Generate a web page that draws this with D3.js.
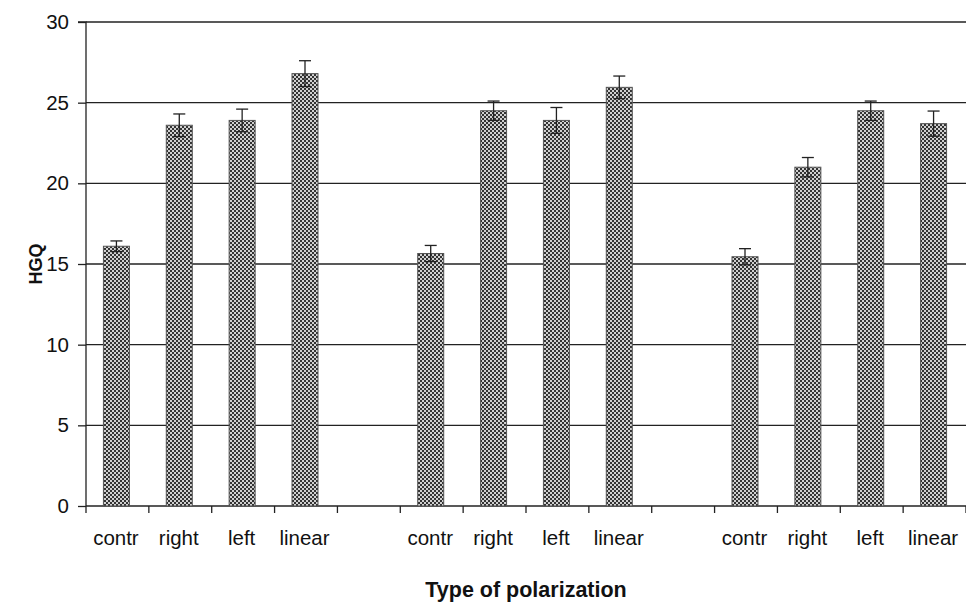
<!DOCTYPE html>
<html><head><meta charset="utf-8">
<script src="https://cdn.jsdelivr.net/npm/d3@7"></script>
<style>body{margin:0;background:#fff}svg{display:block}text{font-family:"Liberation Sans",Arial,sans-serif;fill:#111}</style>
</head><body><svg id="c" width="966" height="616"></svg>
<script>
const slots = ["contr","right","left","linear","gap1","contr","right","left","linear","gap2","contr","right","left","linear"];
const barSlots = [0,1,2,3,5,6,7,8,10,11,12,13];
const values = [16.1,23.6,23.9,26.8, 15.65,24.5,23.9,25.95, 15.45,21.0,24.5,23.7];
const errors = [0.33,0.7,0.7,0.8, 0.5,0.6,0.8,0.7, 0.5,0.6,0.6,0.78];
const yTicks = [0,5,10,15,20,25,30];

const svg = d3.select("#c");
const L=86, R=966, T=22, B=506;
const x = d3.scaleBand().domain(d3.range(slots.length)).range([L,R]).paddingInner(0).paddingOuter(0);
const y = d3.scaleLinear().domain([0,30]).range([B,T]);

const defs = svg.append("defs");
const pat = defs.append("pattern").attr("id","chk").attr("patternUnits","userSpaceOnUse").attr("width",4).attr("height",4);
pat.append("rect").attr("width",4).attr("height",4).attr("fill","#d0d0d0");
pat.append("rect").attr("width",2).attr("height",2).attr("fill","#333");
pat.append("rect").attr("x",2).attr("y",2).attr("width",2).attr("height",2).attr("fill","#333");

// gridlines
svg.append("g").selectAll("line").data(yTicks.filter(d=>d>0)).join("line")
  .attr("x1",L).attr("x2",R).attr("y1",d=>y(d)).attr("y2",d=>y(d))
  .attr("stroke","#222").attr("stroke-width",1.3);

// y axis
const ya = svg.append("g").attr("transform",`translate(${L},0)`)
  .call(d3.axisLeft(y).tickValues(yTicks).tickSize(8).tickPadding(9));
ya.selectAll("path,line").attr("stroke","#222").attr("stroke-width",1.3);
ya.selectAll("text").style("font-size","20.5px").attr("fill","#111");
ya.select(".domain").attr("d",`M-8,${T}H0V${B}`);

// x axis boundaries ticks
const xa = svg.append("g");
xa.append("line").attr("x1",L).attr("x2",R).attr("y1",B).attr("y2",B).attr("stroke","#222").attr("stroke-width",1.3);
xa.selectAll("line.t").data(d3.range(slots.length+1)).join("line").attr("class","t")
  .attr("x1",i=>i<slots.length?x(i):R).attr("x2",i=>i<slots.length?x(i):R)
  .attr("y1",B).attr("y2",B+7).attr("stroke","#222").attr("stroke-width",1.3);
xa.selectAll("text").data(d3.range(slots.length).filter(i=>!slots[i].startsWith("gap"))).join("text")
  .attr("x",i=>x(i)+x.bandwidth()/2-1.5).attr("y",545).attr("text-anchor","middle")
  .style("font-size","20.5px").text(i=>slots[i]);

// bars
const bw = 26;
const g = svg.append("g");
g.selectAll("rect").data(values).join("rect")
  .attr("x",(d,i)=>x(barSlots[i])+x.bandwidth()/2-bw/2-1)
  .attr("y",d=>y(d)).attr("width",bw).attr("height",d=>B-y(d))
  .attr("fill","url(#chk)").attr("stroke","#555").attr("stroke-width",1);

// error bars
const eg = svg.append("g").attr("stroke","#222").attr("stroke-width",1.3);
values.forEach((v,i)=>{
  const cx = x(barSlots[i])+x.bandwidth()/2-1;
  const e = errors[i];
  eg.append("line").attr("x1",cx).attr("x2",cx).attr("y1",y(v+e)).attr("y2",y(v-e));
  eg.append("line").attr("x1",cx-6).attr("x2",cx+6).attr("y1",y(v+e)).attr("y2",y(v+e));
  eg.append("line").attr("x1",cx-6).attr("x2",cx+6).attr("y1",y(v-e)).attr("y2",y(v-e));
});

svg.append("text").attr("transform","translate(42,264) rotate(-90)").attr("text-anchor","middle")
  .style("font-size","18px").style("font-weight","bold").text("HGQ");
svg.append("text").attr("x",526).attr("y",597).attr("text-anchor","middle")
  .style("font-size","21.5px").style("font-weight","bold").text("Type of polarization");
</script></body></html>
